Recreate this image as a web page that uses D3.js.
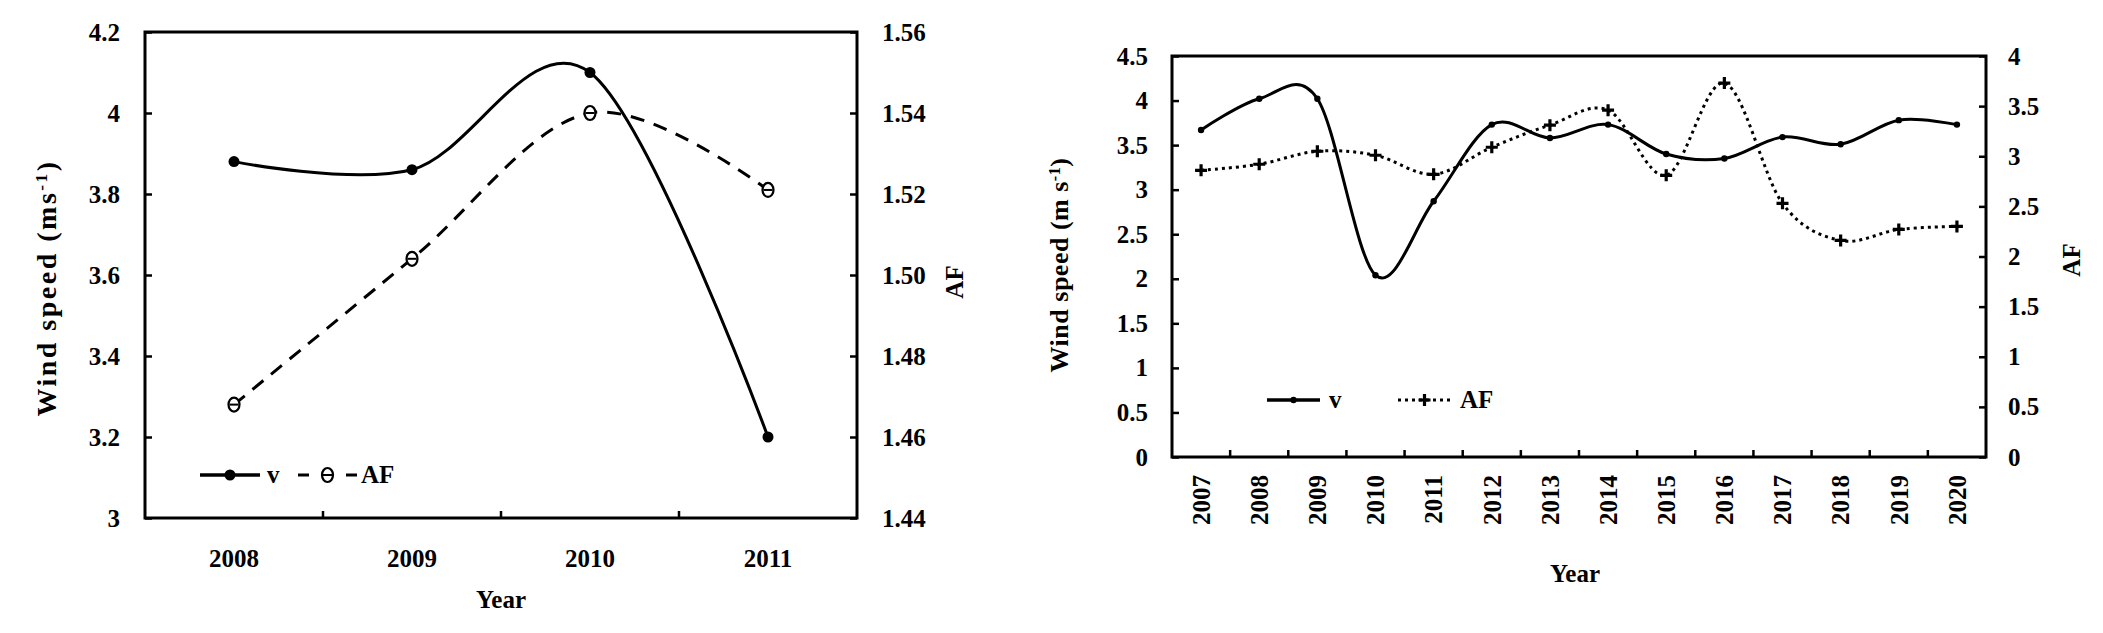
<!DOCTYPE html>
<html><head><meta charset="utf-8">
<script src="https://cdn.jsdelivr.net/npm/d3@7"></script>
<style>
html,body{margin:0;padding:0;background:#fff;}
svg text{font-family:"Liberation Serif","Times New Roman",serif;font-weight:bold;fill:#000;}
</style></head><body>
<svg id="c" width="2103" height="633" xmlns="http://www.w3.org/2000/svg"></svg>
<script>
// ---------- data: left panel ----------
const years1 = ["2008","2009","2010","2011"];
const v1 = [3.88, 3.86, 4.10, 3.20];
const af1 = [1.468, 1.504, 1.540, 1.521];
const yTicks1 = [3, 3.2, 3.4, 3.6, 3.8, 4, 4.2];
const rTicks1 = [1.44, 1.46, 1.48, 1.50, 1.52, 1.54, 1.56];

// ---------- data: right panel ----------
const years2 = ["2007","2008","2009","2010","2011","2012","2013","2014","2015","2016","2017","2018","2019","2020"];
const v2 = [3.67, 4.02, 4.02, 2.04, 2.87, 3.73, 3.58, 3.73, 3.40, 3.35, 3.59, 3.51, 3.78, 3.73];
const af2 = [2.86, 2.92, 3.05, 3.01, 2.82, 3.09, 3.31, 3.46, 2.81, 3.73, 2.53, 2.16, 2.27, 2.30];
const yTicks2 = [0, 0.5, 1, 1.5, 2, 2.5, 3, 3.5, 4, 4.5];
const rTicks2 = [0, 0.5, 1, 1.5, 2, 2.5, 3, 3.5, 4];

const svg = d3.select("#c");
svg.append("rect").attr("width",2103).attr("height",633).attr("fill","#fff");

function panel(cfg){
  const g = svg.append("g");
  const x = d3.scaleBand().domain(cfg.years).range([cfg.x0, cfg.x1]).padding(0);
  const cx = d => x(d) + x.bandwidth()/2;
  const yL = d3.scaleLinear().domain([d3.min(cfg.yTicks), d3.max(cfg.yTicks)]).range([cfg.y1, cfg.y0]);
  const yR = d3.scaleLinear().domain([d3.min(cfg.rTicks), d3.max(cfg.rTicks)]).range([cfg.y1, cfg.y0]);

  // left axis
  const ga = g.append("g").attr("transform",`translate(${cfg.x0},0)`).style("color","#000")
    .call(d3.axisLeft(yL).tickValues(cfg.yTicks).tickSize(-7).tickPadding(cfg.padL).tickFormat(cfg.fmtL));
  ga.select(".domain").remove();
  ga.selectAll("line").attr("stroke-width",2.5);
  ga.selectAll("text").attr("font-size",cfg.fs);

  // right axis
  const gr = g.append("g").attr("transform",`translate(${cfg.x1},0)`).style("color","#000")
    .call(d3.axisRight(yR).tickValues(cfg.rTicks).tickSize(-7).tickPadding(cfg.padR).tickFormat(cfg.fmtR));
  gr.select(".domain").remove();
  gr.selectAll("line").attr("stroke-width",2.5);
  gr.selectAll("text").attr("font-size",cfg.fs);

  // bottom axis labels
  const gb = g.append("g").attr("transform",`translate(0,${cfg.y1})`).style("color","#000")
    .call(d3.axisBottom(x).tickSize(0).tickPadding(cfg.padB));
  gb.select(".domain").remove();
  gb.selectAll("text").attr("font-size",cfg.fs);
  if(cfg.rotate){
    gb.selectAll("text").attr("transform","rotate(-90)").attr("text-anchor","end")
      .attr("x",-cfg.padB).attr("y",0).attr("dy","0.35em");
  }
  // bottom ticks at band boundaries (inward)
  g.append("g").selectAll("line").data(cfg.years.slice(1)).join("line")
    .attr("x1",d=>x(d)).attr("x2",d=>x(d)).attr("y1",cfg.y1).attr("y2",cfg.y1-7)
    .attr("stroke","#000").attr("stroke-width",2.5);

  // box
  g.append("rect").attr("x",cfg.x0).attr("y",cfg.y0).attr("width",cfg.x1-cfg.x0).attr("height",cfg.y1-cfg.y0)
    .attr("fill","none").attr("stroke","#000").attr("stroke-width",3);

  const curve = d3.curveCardinal.tension(0);
  const lineV = d3.line().x((d,i)=>cx(cfg.years[i])).y(d=>yL(d)).curve(curve);
  const lineA = d3.line().x((d,i)=>cx(cfg.years[i])).y(d=>yR(d)).curve(curve);

  g.append("path").attr("d",lineA(cfg.af)).attr("fill","none").attr("stroke","#000")
    .attr("stroke-width",cfg.afW).attr("stroke-dasharray",cfg.afDash);
  g.append("path").attr("d",lineV(cfg.v)).attr("fill","none").attr("stroke","#000")
    .attr("stroke-width",3);

  // markers
  cfg.v.forEach((d,i)=>cfg.vMark(g, cx(cfg.years[i]), yL(d)));
  cfg.af.forEach((d,i)=>cfg.afMark(g, cx(cfg.years[i]), yR(d)));

  // titles
  const yc = cfg.titleY;
  const t = g.append("text").attr("transform",`translate(${cfg.titleX},${yc}) rotate(-90)`)
    .attr("text-anchor","middle").attr("font-size",cfg.titleFs).attr("letter-spacing",cfg.titleLs);
  t.append("tspan").text(cfg.titleMain);
  t.append("tspan").attr("baseline-shift","super").attr("font-size",cfg.titleFs*0.62).text("-1");
  t.append("tspan").text(")");

  g.append("text").attr("transform",`translate(${cfg.afTitleX},${cfg.afTitleY}) rotate(-90)`)
    .attr("text-anchor","middle").attr("font-size",cfg.fs).text("AF");
  g.append("text").attr("x",cfg.yearX).attr("y",cfg.yearY).attr("text-anchor","middle")
    .attr("font-size",cfg.fs).text("Year");

  // legend
  const L = cfg.leg;
  g.append("line").attr("x1",L.v[0]).attr("x2",L.v[1]).attr("y1",L.y).attr("y2",L.y)
    .attr("stroke","#000").attr("stroke-width",3.5);
  cfg.vMark(g, (L.v[0]+L.v[1])/2, L.y);
  g.append("text").attr("x",L.vt).attr("y",L.y+8).attr("font-size",cfg.fs).text("v");
  g.append("line").attr("x1",L.a[0]).attr("x2",L.a[1]).attr("y1",L.y).attr("y2",L.y)
    .attr("stroke","#000").attr("stroke-width",cfg.afW).attr("stroke-dasharray",L.aDash);
  cfg.afMark(g, (L.a[0]+L.a[1])/2, L.y);
  g.append("text").attr("x",L.at).attr("y",L.y+8).attr("font-size",cfg.fs).text("AF");
}

const fmtTrim = d3.format("~g");

panel({
  years: years1, v: v1, af: af1, yTicks: yTicks1, rTicks: rTicks1,
  x0:145, x1:857, y0:32, y1:518, fs:25,
  padL:25, padR:25, padB:31,
  fmtL: fmtTrim, fmtR: d3.format(".2f"),
  rotate:false,
  afW:3, afDash:"14,10",
  vMark:(g,x,y)=>g.append("circle").attr("cx",x).attr("cy",y).attr("r",5.5).attr("fill","#000"),
  afMark:(g,x,y)=>{
    g.append("ellipse").attr("cx",x).attr("cy",y).attr("rx",5.5).attr("ry",7).attr("fill","#fff").attr("stroke","#000").attr("stroke-width",2.2);
    g.append("line").attr("x1",x-4.5).attr("x2",x+4.5).attr("y1",y).attr("y2",y).attr("stroke","#000").attr("stroke-width",2);
  },
  titleX:56, titleY:288, titleFs:28, titleLs:2.5, titleMain:"Wind speed (ms",
  afTitleX:963, afTitleY:282,
  yearX:501, yearY:608,
  leg:{y:475, v:[200,260], vt:267, a:[298,357], aDash:"11,37", at:361}
});

panel({
  years: years2, v: v2, af: af2, yTicks: yTicks2, rTicks: rTicks2,
  x0:1172, x1:1986, y0:56, y1:457, fs:25,
  padL:24, padR:22, padB:18,
  fmtL: fmtTrim, fmtR: fmtTrim,
  rotate:true,
  afW:3, afDash:"3,4",
  vMark:(g,x,y)=>g.append("circle").attr("cx",x).attr("cy",y).attr("r",3.2).attr("fill","#000"),
  afMark:(g,x,y)=>{
    g.append("path").attr("d",`M${x-6},${y}H${x+6}M${x},${y-6}V${y+6}`).attr("stroke","#000").attr("stroke-width",3.2).attr("fill","none");
  },
  titleX:1068, titleY:265, titleFs:26, titleLs:0.5, titleMain:"Wind speed (m s",
  afTitleX:2080, afTitleY:260,
  yearX:1575, yearY:582,
  leg:{y:400, v:[1267,1320], vt:1329, a:[1398,1451], aDash:"3,4", at:1460}
});
</script>
</body></html>
